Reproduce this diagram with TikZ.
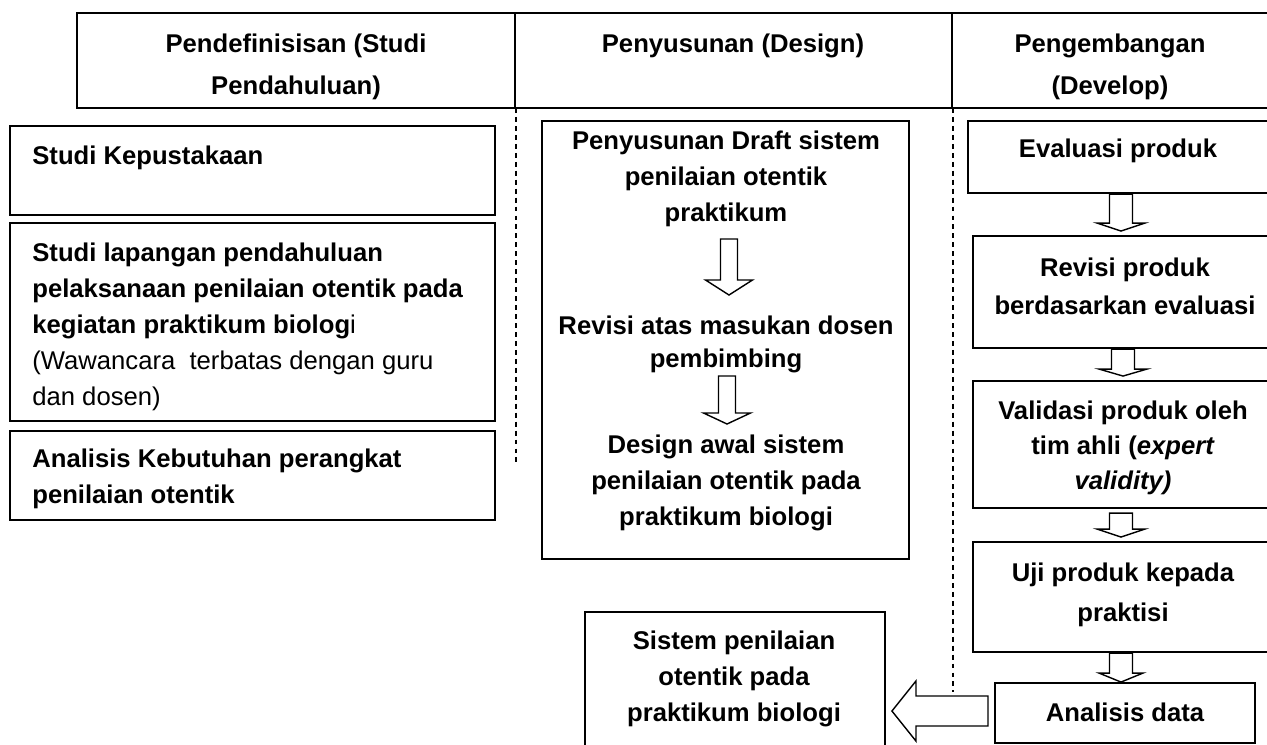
\documentclass[tikz,border=0pt]{standalone}
\usepackage{fontspec}
\setmainfont{Liberation Sans}
\usetikzlibrary{fit,calc}
\tikzset{
  box/.style={draw, line width=1.2pt, inner sep=0pt, fill=none},
  hcell/.style={draw, line width=1.3pt, inner sep=0pt},
  txt/.style={inner sep=0pt, font=\bfseries\fontsize{14.6}{20.4}\selectfont},
  htxt/.style={inner sep=0pt, align=center, font=\bfseries\fontsize{14.6}{23.8}\selectfont},
  blkarrow/.style={draw, line width=0.8pt, fill=white, line join=miter},
  sep/.style={line width=0.6pt, dash pattern=on 2.8pt off 2.3pt}
}
\newcommand\blkdown[5]{%
  \draw[blkarrow, shift={(#1)}] (-#2,0) -- (#2,0) -- (#2,#4) -- (#3,#4) -- (0,#5) -- (-#3,#4) -- (-#2,#4) -- cycle;}
\begin{document}
\begin{tikzpicture}[x=0.02cm, y=-0.02cm]
\useasboundingbox (0,0) rectangle (1267,744);
\clip (0,0) rectangle (1267,744);
\fill[white] (0,0) rectangle (1267,744);

% header
\node[hcell, fit={(77,13)(515,108)}] (hd1) {};
\node[hcell, fit={(515,13)(952,108)}] (hd2) {};
\node[hcell, fit={(952,13)(1285,108)}] (hd3) {};
\node[htxt, anchor=north] (h1) at (296,34) {Pendefinisisan (Studi\\Pendahuluan)};
\node[htxt, anchor=north] (h2) at (733,34) {Penyusunan (Design)};
\node[htxt, anchor=north] (h3) at (1110,34) {Pengembangan\\(Develop)};

% separators
\coordinate (s1top) at (516,108);
\coordinate (s1bot) at (516,466);
\coordinate (s2top) at (953,108);
\coordinate (s2bot) at (953,692);
\draw[sep] (s1top) -- (s1bot);
\draw[sep] (s2top) -- (s2bot);

% left column
\node[box, fit={(10,126)(495,215)}] (kep) {};
\node[box, fit={(10,223)(495,421)}] (lap) {};
\node[box, fit={(10,431)(495,520)}] (ana) {};
\node[txt, anchor=north west, align=left] (tkep) at (32,146) {Studi Kepustakaan};
\node[txt, anchor=north west, align=left] (tlap) at (32,243) {Studi lapangan pendahuluan\\pelaksanaan penilaian otentik pada\\kegiatan praktikum biolog\textmd{i}\\\textmd{(Wawancara\ \ terbatas dengan guru}\\\textmd{dan dosen)}};
\node[txt, anchor=north west, align=left] (tana) at (32,449) {Analisis Kebutuhan perangkat\\penilaian otentik};

% middle column
\node[box, fit={(542,121)(909,559)}] (mid) {};
\node[txt, anchor=north, align=center] (m1) at (726,131) {Penyusunan Draft sistem\\penilaian otentik\\praktikum};
\node[txt, anchor=north, align=center, font=\bfseries\fontsize{14.6}{18.8}\selectfont] (m2) at (726,316) {Revisi atas masukan dosen\\pembimbing};
\node[txt, anchor=north, align=center] (m3) at (726,435) {Design awal sistem\\penilaian otentik pada\\praktikum biologi};
\coordinate (ma1) at (729,239);
\coordinate (ma2) at (727,376);
\blkdown{ma1}{8.5}{23.5}{41}{56}
\blkdown{ma2}{8.5}{23.5}{37}{48}

% right column
\node[box, fit={(968,121)(1285,193)}] (eva) {};
\node[box, fit={(973,236)(1285,348)}] (rev) {};
\node[box, fit={(973,381)(1285,508)}] (val) {};
\node[box, fit={(973,542)(1285,652)}] (uji) {};
\node[box, fit={(995,683)(1255,743)}] (dat) {};
\node[txt, anchor=north, align=center] (te) at (1118,139) {Evaluasi produk};
\node[txt, anchor=north, align=center, font=\bfseries\fontsize{14.6}{21.5}\selectfont] (tr) at (1125,258) {Revisi produk\\berdasarkan evaluasi};
\node[txt, anchor=north, align=center, font=\bfseries\fontsize{14.6}{19.8}\selectfont] (tv) at (1123,401) {Validasi produk oleh\\tim ahli (\textit{expert}\\\textit{validity)}};
\node[txt, anchor=north, align=center, font=\bfseries\fontsize{14.6}{22.6}\selectfont] (tu) at (1123,563) {Uji produk kepada\\praktisi};
\node[txt, anchor=north, align=center] (td) at (1125,703) {Analisis data};

\coordinate (xr) at (1121,0);
\coordinate (ra1) at (eva.south -| xr);
\coordinate (ra2) at ($(rev.south -| xr)+(2,0)$);
\coordinate (ra3) at ($(val.south -| xr)+(0,4)$);
\coordinate (ra4) at (uji.south -| xr);
\blkdown{ra1}{11.5}{24}{29}{37}
\blkdown{ra2}{11.5}{24}{20}{27}
\blkdown{ra3}{11.5}{24}{16}{24}
\blkdown{ra4}{11.5}{22}{20}{29}

% output
\node[box, fit={(585,612)(885,770)}] (sis) {};
\node[txt, anchor=north, align=center] (ts) at (734,631) {Sistem penilaian\\otentik pada\\praktikum biologi};
\draw[blkarrow, shift={(dat.west)}] (-6,-17) -- (-78,-17) -- (-78,-32) -- (-102,-2) -- (-78,28) -- (-78,13) -- (-6,13) -- cycle;
\end{tikzpicture}
\end{document}
